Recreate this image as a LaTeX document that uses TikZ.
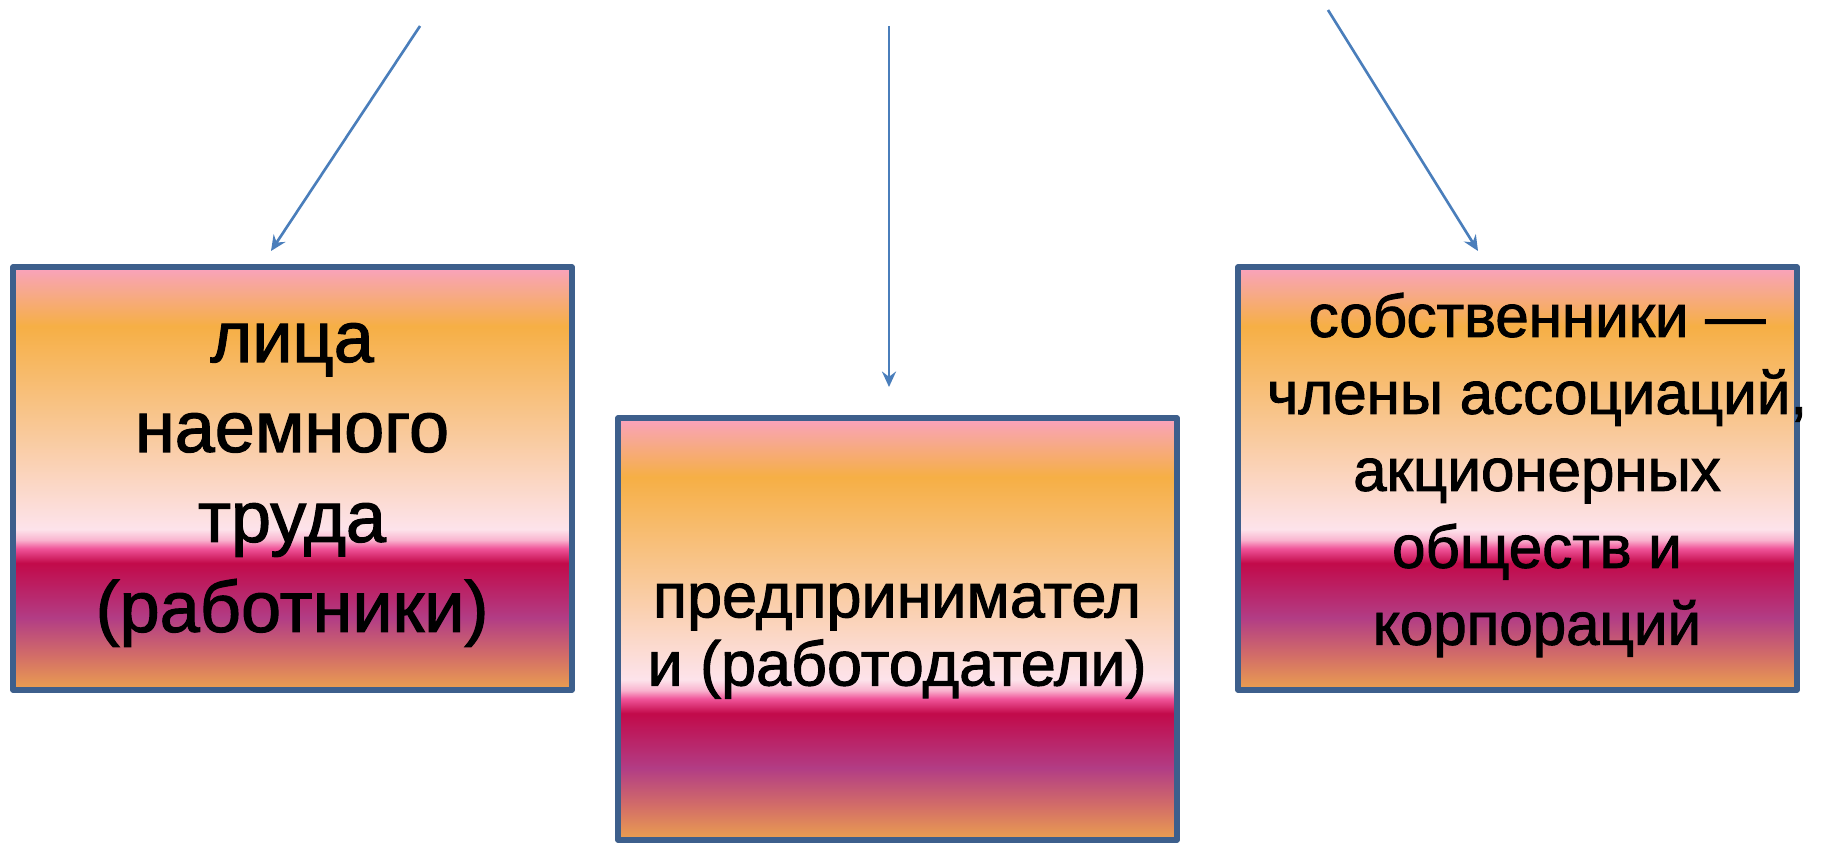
\documentclass[tikz,border=0pt]{standalone}
\usepackage{fontspec}
\setmainfont{Liberation Sans}
\newfontfamily\carattere{Liberation Sans}[FakeBold=1.6]
\usetikzlibrary{arrows.meta}

% colori del bordo e delle frecce
\definecolor{blubordo}{HTML}{3D5F8C}
\definecolor{blufreccia}{HTML}{4A7EBB}

% colori della sfumatura (dal basso verso l'alto)
\definecolor{sfA}{HTML}{EBA04F}
\definecolor{sfB}{HTML}{D36E67}
\definecolor{sfC}{HTML}{B23D85}
\definecolor{sfD}{HTML}{C20A4A}
\definecolor{sfE}{HTML}{F0559A}
\definecolor{sfF}{HTML}{F9B4CF}
\definecolor{sfG}{HTML}{FDE3EB}
\definecolor{sfH}{HTML}{F9CA9D}
\definecolor{sfI}{HTML}{F6AF45}
\definecolor{sfL}{HTML}{F7A98A}
\definecolor{sfM}{HTML}{F9A2BE}

\pgfdeclareverticalshading{fuoco}{100bp}{%
    color(0bp)=(sfA); color(25bp)=(sfA); color(29bp)=(sfB);
    color(33.5bp)=(sfC); color(40bp)=(sfD); color(41.75bp)=(sfE);
    color(42.75bp)=(sfF); color(44bp)=(sfG); color(55bp)=(sfH);
    color(68bp)=(sfI); color(72bp)=(sfL); color(75bp)=(sfM);
    color(100bp)=(sfM)}

\begin{document}
\begin{tikzpicture}[
    scatola/.style={draw=blubordo, line width=1.6pt, line join=round,
        shade, shading=fuoco, inner sep=0pt, outer sep=0pt,
        minimum width=5.59cm, minimum height=4.23cm},
    freccia/.style={draw=blufreccia, line width=0.75pt,
        -{Stealth[length=4.4pt, width=4pt, inset=1.5pt]}},
    testo/.style={align=center, inner sep=0pt}
]
    \useasboundingbox (0, 0) rectangle (18.33, 8.42);

    % -- Scatole --
    \node[scatola] (lavoratori) at (2.925, 3.635) {};
    \node[scatola, minimum height=4.22cm] (imprenditori) at (8.975, 2.13) {};
    \node[scatola] (proprietari) at (15.175, 3.635) {};

    % -- Testi dentro le scatole --
    \node[testo, font={\carattere\fontsize{20.5}{25.6}\selectfont}] (tlavoratori) at (2.92, 3.57)
        {лица\\наемного\\труда\\(работники)};
    \node[testo, font={\carattere\fontsize{17.9}{19.4}\selectfont}] (timprenditori) at (8.97, 2.01)
        {предпринимател\\и (работодатели)};
    \node[testo, font={\carattere\fontsize{17.1}{21.9}\selectfont}] (tproprietari) at (15.37, 3.67)
        {собственники —\\члены ассоциаций,\\акционерных\\обществ и\\корпораций};

    % -- Frecce: estremi liberi sopra le scatole --
    \coordinate (p1) at (4.20, 8.16);
    \coordinate (q1) at (2.71, 5.91);
    \coordinate (p2) at (8.89, 8.16);
    \coordinate (q2) at (8.89, 4.55);
    \coordinate (p3) at (13.28, 8.32);
    \coordinate (q3) at (14.78, 5.91);

    \draw[freccia] (p1) -- (q1);
    \draw[freccia] (p2) -- (q2);
    \draw[freccia] (p3) -- (q3);
\end{tikzpicture}
\end{document}
